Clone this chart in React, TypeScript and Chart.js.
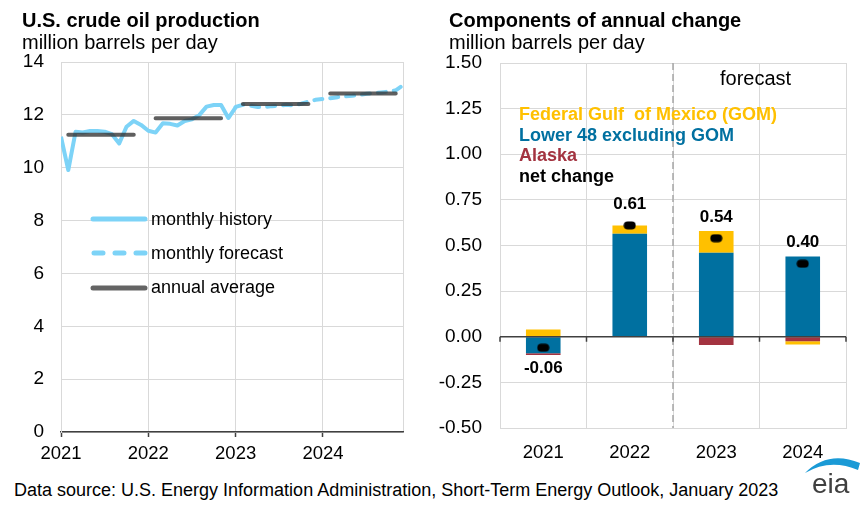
import React, { useEffect, useRef } from 'react';
import { Chart, registerables } from 'chart.js';

Chart.register(...registerables);

// ---------- Data ----------
// Left: U.S. crude oil production, million barrels per day (month index 0 = Jan 2021)
const monthlyHistory = [
  11.17, 9.91, 11.36, 11.33, 11.39, 11.39, 11.36, 11.27, 10.92, 11.55, 11.77, 11.62,
  11.40, 11.33, 11.68, 11.66, 11.60, 11.77, 11.83, 11.99, 12.31, 12.37, 12.37, 11.88,
  12.28,
];
const forecastStartMonth = 24;
const monthlyForecast = [
  12.30, 12.38, 12.35, 12.30, 12.30, 12.33, 12.35, 12.38, 12.36, 12.42, 12.50, 12.57,
  12.60, 12.63, 12.67, 12.70, 12.72, 12.75, 12.80, 12.82, 12.85, 12.88, 12.93, 13.12,
];
const annualAverage = [11.25, 11.87, 12.41, 12.81];
const yearLabels = ['2021', '2022', '2023', '2024'];
const leftYTicks = [0, 2, 4, 6, 8, 10, 12, 14];

// Right: components of annual change, million barrels per day
const categories = ['2021', '2022', '2023', '2024'];
const lower48Change = [-0.09, 0.565, 0.46, 0.44];
const alaskaChange = [-0.01, 0.0, -0.045, -0.025];
const gomChange = [0.04, 0.045, 0.12, -0.018];
const netChange = [-0.06, 0.61, 0.54, 0.4];

// ---------- Styles ----------
const FONT = '"Liberation Sans", Arial, Helvetica, sans-serif';
const BLUE_LINE = '#7dd3f7';
const GRID = '#d9d9d9';
const AXIS = '#404040';
const GOM_COLOR = '#ffc000';
const L48_COLOR = '#0070a0';
const AK_COLOR = '#a33340';

Chart.defaults.font.family = FONT;
Chart.defaults.color = '#000';

function makeMarker(): HTMLCanvasElement {
  const c = document.createElement('canvas');
  c.width = 13;
  c.height = 9;
  const g = c.getContext('2d')!;
  g.fillStyle = '#000';
  g.beginPath();
  (g as any).roundRect(0.5, 0.5, 12, 8, 4);
  g.fill();
  return c;
}

export default function App() {
  const leftRef = useRef<HTMLCanvasElement>(null);
  const rightRef = useRef<HTMLCanvasElement>(null);

  useEffect(() => {
    document.body.style.margin = '0';

    const annualData: { x: number; y: number | null }[] = [];
    annualAverage.forEach((v, i) => {
      annualData.push({ x: i * 12 + 1, y: v });
      annualData.push({ x: i * 12 + 10, y: v });
      annualData.push({ x: i * 12 + 11, y: null });
    });

    const left = new Chart(leftRef.current!, {
      type: 'line',
      data: {
        datasets: [
          {
            label: 'annual average',
            data: annualData,
            borderColor: 'rgba(50,50,50,0.78)',
            borderWidth: 4,
            borderCapStyle: 'round',
            pointRadius: 0,
            spanGaps: false,
            order: 0,
          },
          {
            label: 'monthly history',
            data: monthlyHistory.map((v, i) => ({ x: i, y: v })),
            borderColor: BLUE_LINE,
            borderWidth: 4,
            borderJoinStyle: 'round',
            pointRadius: 0,
            tension: 0,
            order: 1,
          },
          {
            label: 'monthly forecast',
            data: monthlyForecast.map((v, i) => ({ x: forecastStartMonth + i, y: v })),
            borderColor: BLUE_LINE,
            borderWidth: 4,
            borderDash: [8, 8],
            borderCapStyle: 'round',
            pointRadius: 0,
            tension: 0,
            order: 1,
          },
        ],
      },
      options: {
        responsive: false,
        animation: false,
        layout: { padding: { left: 0, right: 17, top: 62, bottom: 0 } },
        plugins: { legend: { display: false }, tooltip: { enabled: false } },
        scales: {
          x: {
            type: 'linear',
            min: 0,
            max: 47,
            afterBuildTicks: (axis: any) => {
              axis.ticks = [0, 12, 24, 36, 47].map((value) => ({ value }));
            },
            afterFit: (axis: any) => {
              axis.height = 38;
            },
            grid: {
              color: GRID,
              lineWidth: 1,
              drawTicks: true,
              tickLength: 5,
              tickColor: (ctx: any) =>
                ctx.tick && ctx.tick.value % 12 === 0 ? AXIS : 'rgba(0,0,0,0)',
              tickWidth: 1.5,
            },
            border: { color: AXIS, width: 1.5 },
            ticks: {
              font: { size: 18.5 },
              color: '#000',
              padding: 6,
              maxRotation: 0,
              autoSkip: false,
              callback: (value: any) =>
                value % 12 === 0 ? yearLabels[value / 12] : '',
            },
          },
          y: {
            min: 0,
            max: 14,
            afterBuildTicks: (axis: any) => {
              axis.ticks = leftYTicks.map((value) => ({ value }));
            },
            afterFit: (axis: any) => {
              axis.width = 61;
            },
            grid: { color: GRID, lineWidth: 1, drawTicks: false },
            border: { color: GRID },
            ticks: { font: { size: 19 }, color: '#000', padding: 17 },
          },
        },
      },
    });

    const marker = makeMarker();

    const rightPlugin = {
      id: 'rightExtras',
      beforeDatasetsDraw(chart: any) {
        const { ctx, chartArea, scales } = chart;
        const x = (scales.x.getPixelForValue(1) + scales.x.getPixelForValue(2)) / 2;
        ctx.save();
        ctx.strokeStyle = '#a6a6a6';
        ctx.lineWidth = 1.5;
        ctx.setLineDash([7, 4]);
        ctx.beginPath();
        ctx.moveTo(x, chartArea.top);
        ctx.lineTo(x, chartArea.bottom);
        ctx.stroke();
        ctx.restore();
      },
      afterDatasetsDraw(chart: any) {
        const { ctx, chartArea, scales } = chart;
        const y0 = scales.y.getPixelForValue(0);
        ctx.save();
        ctx.strokeStyle = AXIS;
        ctx.lineWidth = 1.5;
        ctx.beginPath();
        ctx.moveTo(chartArea.left, y0);
        ctx.lineTo(chartArea.right, y0);
        const n = categories.length;
        for (let i = 0; i <= n; i++) {
          const x = chartArea.left + ((chartArea.right - chartArea.left) * i) / n;
          ctx.moveTo(x, y0);
          ctx.lineTo(x, y0 + 5);
        }
        ctx.stroke();
        ctx.fillStyle = '#000';
        ctx.font = `bold 17px ${FONT}`;
        ctx.textAlign = 'center';
        ctx.textBaseline = 'middle';
        netChange.forEach((v, i) => {
          const x = scales.x.getPixelForValue(i);
          const y = scales.y.getPixelForValue(v) + (v < 0 ? 21 : -21);
          ctx.fillText(v.toFixed(2), x, y);
        });
        ctx.restore();
      },
    };

    const right = new Chart(rightRef.current!, {
      type: 'bar',
      data: {
        labels: categories,
        datasets: [
          {
            type: 'line',
            label: 'net change',
            data: netChange,
            showLine: false,
            pointStyle: marker,
            pointRadius: 6,
            order: 0,
          } as any,
          {
            label: 'Lower 48 excluding GOM',
            data: lower48Change,
            backgroundColor: L48_COLOR,
            order: 1,
          },
          {
            label: 'Alaska',
            data: alaskaChange,
            backgroundColor: AK_COLOR,
            order: 1,
          },
          {
            label: 'Federal Gulf of Mexico (GOM)',
            data: gomChange,
            backgroundColor: GOM_COLOR,
            order: 1,
          },
        ],
      },
      options: {
        responsive: false,
        animation: false,
        datasets: { bar: { categoryPercentage: 1, barPercentage: 0.4 } },
        layout: { padding: { left: 0, right: 19, top: 63, bottom: 0 } },
        plugins: { legend: { display: false }, tooltip: { enabled: false } },
        scales: {
          x: {
            stacked: true,
            offset: true,
            afterFit: (axis: any) => {
              axis.height = 42;
            },
            grid: { offset: true, color: GRID, drawTicks: false },
            border: { color: GRID },
            ticks: { font: { size: 18.5 }, color: '#000', padding: 14 },
          },
          y: {
            stacked: true,
            min: -0.5,
            max: 1.5,
            afterFit: (axis: any) => {
              axis.width = 80;
            },
            grid: {
              color: (ctx: any) => (ctx.tick && ctx.tick.value === 0 ? AXIS : GRID),
              drawTicks: false,
            },
            border: { color: GRID },
            ticks: {
              stepSize: 0.25,
              font: { size: 19 },
              color: '#000',
              padding: 18,
              callback: (v: any) => Number(v).toFixed(2),
            },
          },
        },
      },
      plugins: [rightPlugin],
    });

    return () => {
      left.destroy();
      right.destroy();
    };
  }, []);

  const abs = (s: React.CSSProperties): React.CSSProperties => ({
    position: 'absolute',
    whiteSpace: 'pre',
    lineHeight: 1,
    margin: 0,
    ...s,
  });

  return (
    <div
      style={{
        position: 'absolute',
        left: 0,
        top: 0,
        width: 865,
        height: 510,
        background: '#fff',
        fontFamily: FONT,
        color: '#000',
        overflow: 'hidden',
      }}
    >
      <canvas
        ref={leftRef}
        width={420}
        height={470}
        style={{ position: 'absolute', left: 0, top: 0, width: 420, height: 470 }}
      />
      <canvas
        ref={rightRef}
        width={445}
        height={470}
        style={{ position: 'absolute', left: 420, top: 0, width: 445, height: 470 }}
      />

      <div style={abs({ left: 22, top: 10, fontSize: 20, fontWeight: 'bold' })}>
        U.S. crude oil production
      </div>
      <div style={abs({ left: 22, top: 32, fontSize: 20 })}>million barrels per day</div>
      <div style={abs({ left: 449, top: 10, fontSize: 20, fontWeight: 'bold' })}>
        Components of annual change
      </div>
      <div style={abs({ left: 449, top: 32, fontSize: 20 })}>million barrels per day</div>

      {/* left legend */}
      <svg
        width={60}
        height={90}
        style={{ position: 'absolute', left: 90, top: 208 }}
      >
        <line x1={3} y1={11} x2={55} y2={11} stroke={BLUE_LINE} strokeWidth={5} strokeLinecap="round" />
        <line
          x1={4}
          y1={45}
          x2={55}
          y2={45}
          stroke={BLUE_LINE}
          strokeWidth={5}
          strokeLinecap="round"
          strokeDasharray="9 12"
        />
        <line x1={3} y1={80} x2={55} y2={80} stroke="#646464" strokeWidth={5} strokeLinecap="round" />
      </svg>
      <div style={abs({ left: 151, top: 210, fontSize: 18 })}>monthly history</div>
      <div style={abs({ left: 151, top: 244, fontSize: 18 })}>monthly forecast</div>
      <div style={abs({ left: 151, top: 278, fontSize: 18 })}>annual average</div>

      {/* right legend */}
      <div style={abs({ left: 519, top: 105, fontSize: 18, fontWeight: 'bold', color: GOM_COLOR })}>
        {'Federal Gulf  of Mexico (GOM)'}
      </div>
      <div style={abs({ left: 519, top: 125.7, fontSize: 18, fontWeight: 'bold', color: L48_COLOR })}>
        Lower 48 excluding GOM
      </div>
      <div style={abs({ left: 519, top: 146.4, fontSize: 18, fontWeight: 'bold', color: AK_COLOR })}>
        Alaska
      </div>
      <div style={abs({ left: 519, top: 167, fontSize: 18, fontWeight: 'bold', color: '#000' })}>
        net change
      </div>
      <div style={abs({ left: 720, top: 68, fontSize: 20 })}>forecast</div>

      {/* footer */}
      <div style={abs({ left: 14, top: 481, fontSize: 18 })}>
        Data source: U.S. Energy Information Administration, Short-Term Energy Outlook, January 2023
      </div>
      <svg width={70} height={30} style={{ position: 'absolute', left: 800, top: 455 }}>
        <path d="M5 18 Q28 -5 60 8 L58 15 Q30 3 5 18 Z" fill="#1a9ad6" />
      </svg>
      <div style={abs({ left: 812, top: 470, fontSize: 28, color: '#404040' })}>eia</div>
    </div>
  );
}
